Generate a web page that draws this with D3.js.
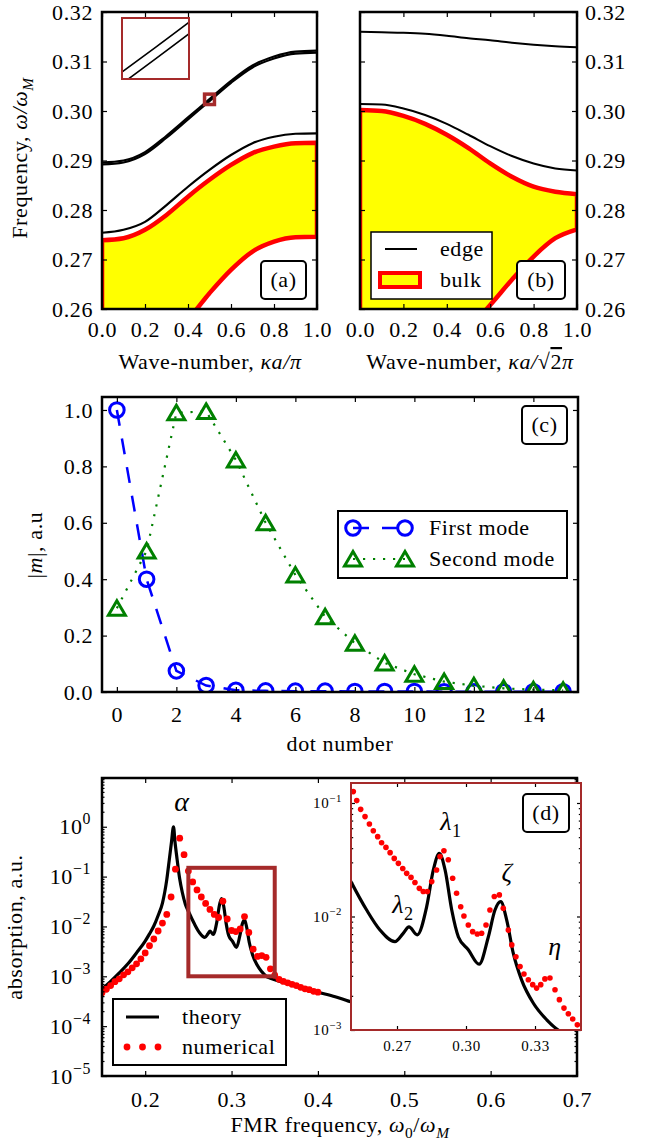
<!DOCTYPE html>
<html>
<head>
<meta charset="utf-8">
<script src="https://cdn.jsdelivr.net/npm/d3@7/dist/d3.min.js"></script>
<style>
  body { margin: 0; background: #fff; }
  text { fill: #000; letter-spacing: 0.6px; }
</style>
</head>
<body>
<div id="chart-area"></div>
<script>

// ---- (a) edge / bulk bands
var kA = [0.0, 0.1, 0.2, 0.3, 0.4, 0.5, 0.6, 0.7, 0.8, 0.9, 1.0];
var edgeA1 = [0.2896, 0.2900, 0.2917, 0.2950, 0.2987, 0.3024, 0.3061, 0.3092, 0.3110, 0.3120, 0.3122];
var edgeA2 = [0.2892, 0.2896, 0.2913, 0.2946, 0.2983, 0.3020, 0.3057, 0.3088, 0.3106, 0.3116, 0.3118];
var edgeA3 = [0.2754, 0.2760, 0.2776, 0.2810, 0.2847, 0.2881, 0.2911, 0.2935, 0.2948, 0.2954, 0.2955];
var bulkATop = [0.2739, 0.2743, 0.2760, 0.2790, 0.2827, 0.2861, 0.2891, 0.2915, 0.2928, 0.2935, 0.2936];
var bulkABot = [0.2505, 0.2510, 0.2525, 0.2550, 0.2580, 0.2632, 0.2679, 0.2716, 0.2736, 0.2745, 0.2746];
var zoomA = {x0: 0.477, x1: 0.523, y0: 0.30131, y1: 0.30341};

// ---- (b)
var kB = [0.0, 0.1, 0.2, 0.3, 0.4, 0.5, 0.6, 0.7, 0.8, 0.9, 1.0];
var edgeB1 = [0.3160, 0.3159, 0.3158, 0.3156, 0.3152, 0.3147, 0.3143, 0.3138, 0.3134, 0.3131, 0.3129];
var edgeB2 = [0.3014, 0.3013, 0.3005, 0.2992, 0.2974, 0.2952, 0.2929, 0.2909, 0.2894, 0.2884, 0.2880];
var bulkBTop = [0.3002, 0.3000, 0.2990, 0.2974, 0.2952, 0.2925, 0.2894, 0.2867, 0.2847, 0.2837, 0.2832];
var bulkBBot = [0.2490, 0.2492, 0.2498, 0.2508, 0.2525, 0.2560, 0.2608, 0.2659, 0.2706, 0.2743, 0.2761];
var freqTicks = [0.26, 0.27, 0.28, 0.29, 0.30, 0.31, 0.32];
var kTicks = [0.0, 0.2, 0.4, 0.6, 0.8, 1.0];

// ---- (c) mode profiles
var dotNum = [0, 1, 2, 3, 4, 5, 6, 7, 8, 9, 10, 11, 12, 13, 14, 15];
var firstMode = [1.0, 0.40, 0.075, 0.023, 0.006, 0.004, 0.003, 0.003, 0.002, 0.002, 0.002, 0.001, 0.001, 0.001, 0.001, 0.001];
var secondMode = [0.297, 0.50, 0.99, 0.995, 0.823, 0.60, 0.415, 0.267, 0.173, 0.103, 0.063, 0.037, 0.022, 0.013, 0.008, 0.006];
var dotTicks = [0, 2, 4, 6, 8, 10, 12, 14];
var magTicks = [0.0, 0.2, 0.4, 0.6, 0.8, 1.0];

// ---- (d) absorption spectra
var thrFreq = [0.150, 0.160, 0.170, 0.180, 0.190, 0.200, 0.205, 0.210, 0.215, 0.220, 0.225, 0.228, 0.2305, 0.2328,
  0.2345, 0.237, 0.240, 0.243, 0.2465, 0.2503, 0.2568, 0.2626, 0.2691, 0.2727, 0.2752, 0.2788, 0.2829, 0.2858,
  0.2884, 0.2909, 0.2938, 0.2967, 0.3010, 0.3057, 0.3097, 0.3126, 0.3151, 0.3177, 0.3206, 0.3242, 0.3293,
  0.3351, 0.3401, 0.345, 0.360, 0.380, 0.400, 0.420, 0.440, 0.470, 0.500];
var thrAbs = [5.5e-4, 7.9e-4, 1.17e-3, 1.78e-3, 2.95e-3, 5.1e-3, 7.1e-3, 1.02e-2, 1.66e-2, 2.95e-2, 8.7e-2, 0.224, 0.50, 1.0,
  0.50, 0.219, 8.9e-2, 4.8e-2, 2.8e-2, 1.97e-2, 1.14e-2, 7.6e-3, 6.0e-3, 7.1e-3, 8.1e-3, 6.9e-3, 1.22e-2, 2.57e-2,
  3.6e-2, 2.57e-2, 1.14e-2, 6.6e-3, 5.1e-3, 3.8e-3, 6.6e-3, 1.14e-2, 1.35e-2, 9.3e-3, 4.7e-3, 2.75e-3, 1.72e-3,
  1.23e-3, 1.0e-3, 9.1e-4, 7.6e-4, 6.0e-4, 4.8e-4, 3.9e-4, 3.0e-4, 2.4e-4, 1.9e-4];

var numFreq = [0.150, 0.155, 0.160, 0.165, 0.170, 0.175, 0.180, 0.185, 0.190, 0.195, 0.200, 0.205, 0.210, 0.215,
  0.220, 0.225, 0.230, 0.235, 0.240, 0.245, 0.250, 0.255, 0.260, 0.265, 0.270, 0.275, 0.280, 0.285, 0.290, 0.295,
  0.300, 0.305, 0.310, 0.315, 0.320, 0.325, 0.330, 0.335, 0.340, 0.345, 0.350, 0.355, 0.360, 0.365, 0.370, 0.375,
  0.380, 0.385, 0.390, 0.395, 0.400];
var numAbs = [4.7e-4, 5.5e-4, 6.5e-4, 7.8e-4, 8.9e-4, 1.07e-3, 1.23e-3, 1.48e-3, 1.78e-3, 2.24e-3, 2.95e-3, 4.1e-3,
  5.6e-3, 8.1e-3, 1.17e-2, 1.74e-2, 3.9e-2, 0.141, 0.59, 0.275, 0.129, 7.8e-2, 5.4e-2, 3.9e-2, 2.9e-2, 2.19e-2,
  1.74e-2, 1.51e-2, 3.2e-2, 1.41e-2, 8.3e-3, 7.9e-3, 8.9e-3, 1.58e-2, 7.6e-3, 3.5e-3, 2.5e-3, 2.6e-3, 2.4e-3,
  1.41e-3, 1.05e-3, 8.7e-4, 7.9e-4, 7.4e-4, 6.9e-4, 6.5e-4, 6.0e-4, 5.6e-4, 5.4e-4, 5.0e-4, 4.8e-4];

// finer numerical run shown in the inset
var insFreq = [0.2510, 0.2525, 0.2542, 0.2561, 0.2580, 0.2597, 0.2616, 0.2633, 0.2652, 0.2670, 0.2688, 0.2706,
  0.2725, 0.2742, 0.2761, 0.2778, 0.2797, 0.2814, 0.2832, 0.2851, 0.2872, 0.2887, 0.2904, 0.2923, 0.2942, 0.2959,
  0.2977, 0.2991, 0.3010, 0.3029, 0.3049, 0.3068, 0.3087, 0.3104, 0.3123, 0.3145, 0.3162, 0.3184, 0.3199, 0.3217,
  0.3235, 0.3252, 0.3271, 0.3290, 0.3307, 0.3325, 0.3343, 0.3365, 0.3387, 0.3406, 0.3426, 0.3445, 0.3464, 0.3484];
var insAbs = [0.126, 0.105, 0.0879, 0.0759, 0.0653, 0.0570, 0.0505, 0.0447, 0.0406, 0.0365, 0.0325, 0.0294,
  0.0265, 0.0240, 0.0221, 0.0199, 0.0177, 0.0166, 0.0166, 0.0203, 0.0257, 0.0337, 0.0380, 0.0316, 0.0217, 0.0160,
  0.0122, 0.0101, 0.00841, 0.00735, 0.00701, 0.00711, 0.00841, 0.0114, 0.0150, 0.0155, 0.0118, 0.00759, 0.00562,
  0.00442, 0.00363, 0.00311, 0.00277, 0.00251, 0.00234, 0.00251, 0.00282, 0.00287, 0.00226, 0.00185, 0.00156,
  0.00139, 0.00125, 0.00111];
var fmrTicks = [0.2, 0.3, 0.4, 0.5, 0.6, 0.7];
var insTicks = [0.27, 0.30, 0.33];
var zoomD = {x0: 0.25, x1: 0.35, y0: 1e-3, y1: 0.15};

var BROWN = "#a52a2a";
var FS = 22;

var svg = d3.select("#chart-area").append("svg")
  .attr("width", 652).attr("height", 1142)
  .style("font-family", "'Liberation Serif', 'DejaVu Serif', serif");

var defs = svg.append("defs");
function clip(id, l, t, r, b) {
  defs.append("clipPath").attr("id", id).append("rect")
    .attr("x", l).attr("y", t).attr("width", r - l).attr("height", b - t);
  return "url(#" + id + ")";
}

// ticks pointing inwards on all four sides, labels on two
function addAxes(g, x, y, o) {
  var L = o.len || 5, fs = o.fs || FS;
  var l = x.range()[0], r = x.range()[1], b = y.range()[0], t = y.range()[1];
  var none = function() { return ""; };
  function one(gen, tr, vals, len, fmt, pad) {
    var a = g.append("g").attr("transform", tr)
      .call(gen.tickValues(vals).tickSize(-len).tickPadding(pad || 0).tickFormat(fmt));
    a.select(".domain").remove();
    a.attr("font-size", fs).attr("font-family", null);
    a.selectAll(".tick line").attr("stroke-width", o.tw || 1.2);
    return a;
  }
  var out = {};
  out.bottom = one(d3.axisBottom(x), "translate(0," + b + ")", o.xt, L, o.xfmt || none, o.xpad);
  one(d3.axisTop(x), "translate(0," + t + ")", o.xt, L, none);
  out.left = one(d3.axisLeft(y), "translate(" + l + ",0)", o.yt, L, o.ylab === "left" ? o.yfmt : none, o.ypad);
  out.right = one(d3.axisRight(y), "translate(" + r + ",0)", o.yt, L, o.ylab === "right" ? o.yfmt : none, o.ypad);
  if (o.ym) {
    one(d3.axisLeft(y), "translate(" + l + ",0)", o.ym, o.mlen || 2.5, none);
    one(d3.axisRight(y), "translate(" + r + ",0)", o.ym, o.mlen || 2.5, none);
  }
  g.append("rect").attr("x", l).attr("y", t).attr("width", r - l).attr("height", b - t)
    .attr("fill", "none").attr("stroke", o.frame || "#000").attr("stroke-width", o.fw || 2.5);
  return out;
}

// power-of-ten labels with a raised exponent
function powLabels(a, fs) {
  a.selectAll(".tick text").each(function(d) {
    var t = d3.select(this), e = Math.round(Math.log10(d));
    t.text(null);
    t.append("tspan").text("10");
    t.append("tspan").attr("dy", -fs * 0.45).attr("font-size", fs * 0.72)
      .text(e === 0 ? "0" : "\u2212" + (-e));
  });
}

// text made of roman / italic / sub pieces
function rich(g, x, y, fs, parts, opt) {
  opt = opt || {};
  var t = g.append("text").attr("x", x).attr("y", y).attr("font-size", fs)
    .attr("text-anchor", opt.anchor || "middle");
  if (opt.rot) t.attr("transform", "rotate(-90," + x + "," + y + ")");
  var shift = 0;
  parts.forEach(function(p) {
    var s = t.append("tspan").text(p.t);
    if (p.i) s.attr("font-style", "italic");
    var target = p.sub ? fs * 0.28 : 0;
    if (target !== shift) { s.attr("dy", target - shift); shift = target; }
    if (p.sub) s.attr("font-size", fs * 0.7);
    if (p.ol) s.attr("text-decoration", "overline");
  });
  return t;
}

function panelLabel(g, x, y, w, h, txt) {
  g.append("rect").attr("x", x).attr("y", y).attr("width", w).attr("height", h)
    .attr("rx", 4).attr("fill", "#fff").attr("stroke", "#000").attr("stroke-width", 2);
  g.append("text").attr("x", x + w / 2).attr("y", y + h / 2).attr("dy", "0.33em")
    .attr("text-anchor", "middle").attr("font-size", FS).text(txt);
}

function lineOf(xs, x, y, vals, curve) {
  return d3.line().x(function(d, i) { return x(xs[i]); }).y(function(d) { return y(d); })
    .curve(curve || d3.curveMonotoneX)(vals);
}
function bandOf(xs, x, y, top, bot) {
  return d3.area().x(function(d, i) { return x(xs[i]); })
    .y0(function(d, i) { return y(bot[i]); }).y1(function(d) { return y(d); })
    .curve(d3.curveMonotoneX)(top);
}

// ================= (a)
var A = {l: 102, r: 317, t: 12, b: 309};
var xA = d3.scaleLinear().domain([0, 1]).range([A.l, A.r]);
var yA = d3.scaleLinear().domain([0.26, 0.32]).range([A.b, A.t]);
var gA = svg.append("g");
var cA = gA.append("g").attr("clip-path", clip("clipA", A.l, A.t, A.r, A.b));
cA.append("path").attr("d", bandOf(kA, xA, yA, bulkATop, bulkABot))
  .attr("fill", "#ffff00").attr("stroke", "#ff0000").attr("stroke-width", 4.5);
[edgeA1, edgeA2, edgeA3].forEach(function(v) {
  cA.append("path").attr("d", lineOf(kA, xA, yA, v)).attr("fill", "none")
    .attr("stroke", "#000").attr("stroke-width", 2.2);
});
// marker of the zoomed spot and the zoom window
cA.append("rect").attr("x", xA(zoomA.x0)).attr("y", yA(zoomA.y1))
  .attr("width", xA(zoomA.x1) - xA(zoomA.x0)).attr("height", yA(zoomA.y0) - yA(zoomA.y1))
  .attr("fill", "none").attr("stroke", BROWN).attr("stroke-width", 3.5);
var IA = {l: 122, r: 189, t: 18, b: 79};
var xIA = d3.scaleLinear().domain([zoomA.x0, zoomA.x1]).range([IA.l, IA.r]);
var yIA = d3.scaleLinear().domain([zoomA.y0, zoomA.y1]).range([IA.b, IA.t]);
gA.append("rect").attr("x", IA.l).attr("y", IA.t).attr("width", IA.r - IA.l).attr("height", IA.b - IA.t).attr("fill", "#fff");
var cIA = gA.append("g").attr("clip-path", clip("clipIA", IA.l, IA.t, IA.r, IA.b));
[edgeA1, edgeA2].forEach(function(v) {
  cIA.append("path").attr("d", lineOf(kA, xIA, yIA, v)).attr("fill", "none")
    .attr("stroke", "#000").attr("stroke-width", 1.6);
});
gA.append("rect").attr("x", IA.l).attr("y", IA.t).attr("width", IA.r - IA.l).attr("height", IA.b - IA.t)
  .attr("fill", "none").attr("stroke", BROWN).attr("stroke-width", 2);
addAxes(gA, xA, yA, {xt: kTicks, yt: freqTicks, xfmt: d3.format(".1f"), yfmt: d3.format(".2f"),
  ylab: "left", xpad: 12, ypad: 9});
panelLabel(gA, 261, 261, 45, 38, "(a)");
rich(gA, 210, 369, FS, [{t: "Wave-number, "}, {t: "\u03baa/\u03c0", i: 1}]);
rich(gA, 27, 158, FS, [{t: "Frequency, "}, {t: "\u03c9/\u03c9", i: 1}, {t: "M", i: 1, sub: 1}], {rot: 1});

// ================= (b)
var B = {l: 360, r: 577, t: 12, b: 309};
var xB = d3.scaleLinear().domain([0, 1]).range([B.l, B.r]);
var yB = d3.scaleLinear().domain([0.26, 0.32]).range([B.b, B.t]);
var gB = svg.append("g");
var cB = gB.append("g").attr("clip-path", clip("clipB", B.l, B.t, B.r, B.b));
cB.append("path").attr("d", bandOf(kB, xB, yB, bulkBTop, bulkBBot))
  .attr("fill", "#ffff00").attr("stroke", "#ff0000").attr("stroke-width", 4.5);
[edgeB1, edgeB2].forEach(function(v) {
  cB.append("path").attr("d", lineOf(kB, xB, yB, v)).attr("fill", "none")
    .attr("stroke", "#000").attr("stroke-width", 2);
});
// legend
var lgB = gB.append("g");
lgB.append("rect").attr("x", 371).attr("y", 232).attr("width", 121).attr("height", 67)
  .attr("fill", "#fff").attr("stroke", "#000").attr("stroke-width", 1.5);
lgB.append("line").attr("x1", 385).attr("x2", 417).attr("y1", 249).attr("y2", 249)
  .attr("stroke", "#000").attr("stroke-width", 2);
lgB.append("rect").attr("x", 380).attr("y", 273).attr("width", 40).attr("height", 14)
  .attr("fill", "#ffff00").attr("stroke", "#ff0000").attr("stroke-width", 4);
lgB.append("text").attr("x", 440).attr("y", 249).attr("dy", "0.3em").attr("font-size", FS).text("edge");
lgB.append("text").attr("x", 440).attr("y", 280).attr("dy", "0.3em").attr("font-size", FS).text("bulk");
addAxes(gB, xB, yB, {xt: kTicks, yt: freqTicks, xfmt: d3.format(".1f"), yfmt: d3.format(".2f"),
  ylab: "right", xpad: 12, ypad: 8});
panelLabel(gB, 517, 261, 48, 38, "(b)");
rich(gB, 470, 369, FS, [{t: "Wave-number, "}, {t: "\u03baa/", i: 1}, {t: "\u221a"}, {t: "2", ol: 1}, {t: "\u03c0", i: 1}]);

// ================= (c)
var C = {l: 102, r: 578, t: 397, b: 692};
var xC = d3.scaleLinear().domain([-0.5, 15.5]).range([C.l, C.r]);
var yC = d3.scaleLinear().domain([0, 1.046]).range([C.b, C.t]);
var gC = svg.append("g");
var cC = gC.append("g").attr("clip-path", clip("clipC", C.l, C.t, C.r, C.b));
var triPath = "M0,-7.5L8.5,7L-8.5,7Z";
cC.append("path").attr("d", lineOf(dotNum, xC, yC, firstMode, d3.curveLinear))
  .attr("fill", "none").attr("stroke", "#0000ff").attr("stroke-width", 2.5).attr("stroke-dasharray", "16,13");
cC.selectAll(".c1").data(firstMode).enter().append("circle")
  .attr("cx", function(d, i) { return xC(dotNum[i]); }).attr("cy", function(d) { return yC(d); })
  .attr("r", 7.3).attr("fill", "none").attr("stroke", "#0000ff").attr("stroke-width", 3);
cC.append("path").attr("d", lineOf(dotNum, xC, yC, secondMode, d3.curveLinear))
  .attr("fill", "none").attr("stroke", "#008000").attr("stroke-width", 2.2).attr("stroke-dasharray", "2.2,7.8");
cC.selectAll(".c2").data(secondMode).enter().append("path")
  .attr("transform", function(d, i) { return "translate(" + xC(dotNum[i]) + "," + yC(d) + ")"; })
  .attr("d", triPath).attr("fill", "none").attr("stroke", "#008000").attr("stroke-width", 3);
// legend
var lgC = gC.append("g");
lgC.append("rect").attr("x", 338).attr("y", 511).attr("width", 229).attr("height", 67)
  .attr("fill", "#fff").attr("stroke", "#000").attr("stroke-width", 2);
lgC.append("line").attr("x1", 353).attr("x2", 405).attr("y1", 528).attr("y2", 528)
  .attr("stroke", "#0000ff").attr("stroke-width", 2.5).attr("stroke-dasharray", "16,13");
[353, 405].forEach(function(cx) {
  lgC.append("circle").attr("cx", cx).attr("cy", 528).attr("r", 7.3)
    .attr("fill", "none").attr("stroke", "#0000ff").attr("stroke-width", 3);
});
lgC.append("line").attr("x1", 353).attr("x2", 405).attr("y1", 559).attr("y2", 559)
  .attr("stroke", "#008000").attr("stroke-width", 2.2).attr("stroke-dasharray", "2.2,7.8");
[353, 405].forEach(function(cx) {
  lgC.append("path").attr("transform", "translate(" + cx + ",559)").attr("d", triPath)
    .attr("fill", "none").attr("stroke", "#008000").attr("stroke-width", 3);
});
lgC.append("text").attr("x", 429).attr("y", 528).attr("dy", "0.33em").attr("font-size", FS).text("First mode");
lgC.append("text").attr("x", 429).attr("y", 559).attr("dy", "0.33em").attr("font-size", FS).text("Second mode");
addAxes(gC, xC, yC, {xt: dotTicks, yt: magTicks, xfmt: d3.format("d"), yfmt: d3.format(".1f"),
  ylab: "left", xpad: 14, ypad: 9});
panelLabel(gC, 522, 406, 45, 38, "(c)");
rich(gC, 340, 751, FS, [{t: "dot number"}]);
rich(gC, 42, 545, FS, [{t: "|"}, {t: "m", i: 1}, {t: "|, a.u"}], {rot: 1});

// ================= (d)
var D = {l: 102, r: 577, t: 778, b: 1076};
var xD = d3.scaleLinear().domain([0.15, 0.7]).range([D.l, D.r]);
var yD = d3.scaleLog().domain([1e-5, 9.5]).range([D.b, D.t]);
var gD = svg.append("g");
var cD = gD.append("g").attr("clip-path", clip("clipD", D.l, D.t, D.r, D.b));
cD.append("path").attr("d", lineOf(thrFreq, xD, yD, thrAbs))
  .attr("fill", "none").attr("stroke", "#000").attr("stroke-width", 3.2);
cD.selectAll(".num").data(numAbs).enter().append("circle")
  .attr("cx", function(d, i) { return xD(numFreq[i]); }).attr("cy", function(d) { return yD(d); })
  .attr("r", 3.4).attr("fill", "#ff0000");
cD.append("rect").attr("x", xD(zoomD.x0)).attr("y", yD(zoomD.y1))
  .attr("width", xD(zoomD.x1) - xD(zoomD.x0)).attr("height", yD(zoomD.y0) - yD(zoomD.y1))
  .attr("fill", "none").attr("stroke", BROWN).attr("stroke-width", 4);
// legend
var lgD = gD.append("g");
lgD.append("rect").attr("x", 113).attr("y", 999).attr("width", 173).attr("height", 66)
  .attr("fill", "#fff").attr("stroke", "#000").attr("stroke-width", 2);
lgD.append("line").attr("x1", 126).attr("x2", 159).attr("y1", 1017).attr("y2", 1017)
  .attr("stroke", "#000").attr("stroke-width", 3.2);
[127, 142.5, 158].forEach(function(cx) {
  lgD.append("circle").attr("cx", cx).attr("cy", 1047).attr("r", 3.4).attr("fill", "#ff0000");
});
lgD.append("text").attr("x", 182).attr("y", 1017).attr("dy", "0.33em").attr("font-size", FS).text("theory");
lgD.append("text").attr("x", 182).attr("y", 1047).attr("dy", "0.33em").attr("font-size", FS).text("numerical");

var majD = [1e-5, 1e-4, 1e-3, 1e-2, 1e-1, 1e0];
var minD = [];
for (var e = -5; e <= 0; e++) for (var m = 2; m <= 9; m++) if (m * Math.pow(10, e) < 9.5) minD.push(m * Math.pow(10, e));
var axD = addAxes(gD, xD, yD, {xt: fmrTicks, yt: majD, ym: minD, xfmt: d3.format(".1f"), yfmt: function() { return "x"; },
  ylab: "left", xpad: 15, ypad: 11});
powLabels(axD.left, FS);
rich(gD, 182, 811, 28, [{t: "\u03b1", i: 1}]);
rich(gD, 340, 1132, FS, [{t: "FMR frequency, "}, {t: "\u03c9", i: 1}, {t: "0", sub: 1}, {t: "/"}, {t: "\u03c9", i: 1}, {t: "M", i: 1, sub: 1}]);
rich(gD, 22, 927, FS, [{t: "absorption, a.u."}], {rot: 1});

// ---- inset of (d)
var DI = {l: 351, r: 581, t: 783, b: 1030};
var xDI = d3.scaleLinear().domain([zoomD.x0, zoomD.x1]).range([DI.l, DI.r]);
var yDI = d3.scaleLog().domain([zoomD.y0, zoomD.y1]).range([DI.b, DI.t]);
var gDI = svg.append("g");
gDI.append("rect").attr("x", DI.l).attr("y", DI.t).attr("width", DI.r - DI.l).attr("height", DI.b - DI.t).attr("fill", "#fff");
var cDI = gDI.append("g").attr("clip-path", clip("clipDI", DI.l, DI.t, DI.r, DI.b));
cDI.append("path").attr("d", lineOf(thrFreq, xDI, yDI, thrAbs))
  .attr("fill", "none").attr("stroke", "#000").attr("stroke-width", 3.2);
cDI.selectAll(".ins").data(insAbs).enter().append("circle")
  .attr("cx", function(d, i) { return xDI(insFreq[i]); }).attr("cy", function(d) { return yDI(d); })
  .attr("r", 2.8).attr("fill", "#ff0000");
var minDI = [];
for (var e2 = -3; e2 <= -1; e2++) for (var m2 = 2; m2 <= 9; m2++) if (m2 * Math.pow(10, e2) < 0.15) minDI.push(m2 * Math.pow(10, e2));
var axDI = addAxes(gDI, xDI, yDI, {xt: insTicks, yt: [1e-3, 1e-2, 1e-1], ym: minDI, xfmt: d3.format(".2f"),
  yfmt: function() { return "x"; }, ylab: "left", xpad: 10, ypad: 9, fs: 15, len: 4, mlen: 2.2,
  frame: BROWN, fw: 2});
powLabels(axDI.left, 15);
panelLabel(gDI, 523, 794, 46, 38, "(d)");
rich(gDI, 451, 830, 26, [{t: "\u03bb", i: 1}, {t: "1", sub: 1}]);
rich(gDI, 403, 913, 26, [{t: "\u03bb", i: 1}, {t: "2", sub: 1}]);
rich(gDI, 507, 881, 26, [{t: "\u03b6", i: 1}]);
rich(gDI, 555, 955, 26, [{t: "\u03b7", i: 1}]);

</script>
</body>
</html>
